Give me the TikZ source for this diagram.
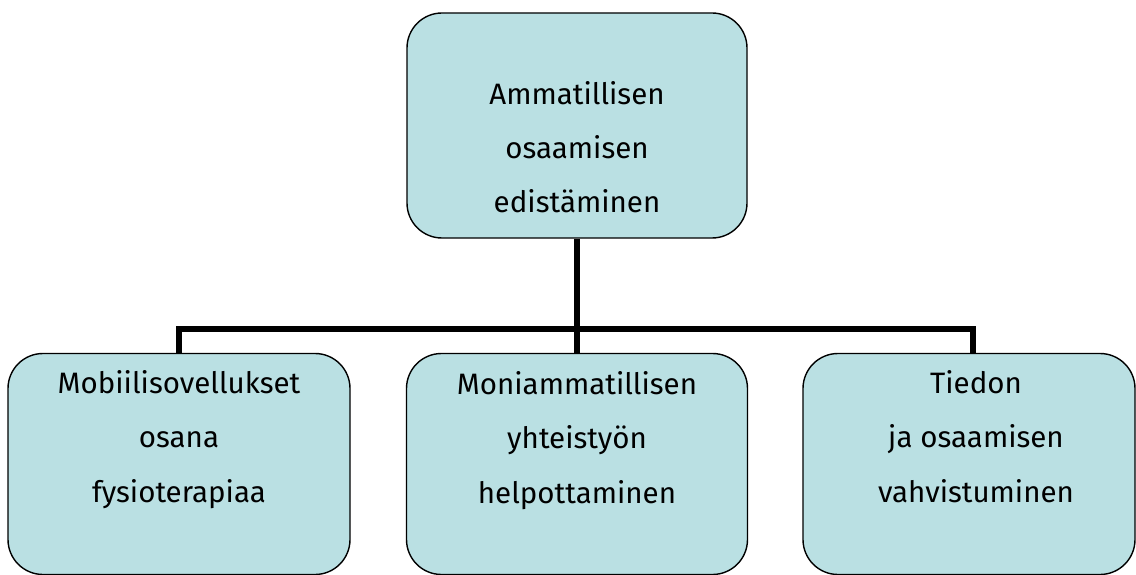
\documentclass[tikz,border=0pt]{standalone}
\usepackage{fontspec}
\setmainfont{Fira Sans}
\definecolor{boxfill}{RGB}{186,224,227}
\tikzset{
  box/.style={draw=black, line width=1.4pt, fill=boxfill, rounded corners=35pt,
    inner sep=0pt},
  % anchor=base of a multi-line node sits on its last line
  txt/.style={align=center, anchor=base, inner sep=0pt,
    font=\fontsize{29.5}{54.5}\selectfont},
  conn/.style={draw=black, line width=5.5pt, line join=miter, line cap=butt}
}
\begin{document}
\begin{tikzpicture}[x=1pt,y=-1pt]
  \useasboundingbox (0,0) rectangle (1136,575);
  % boxes
  \node[box, minimum width=340pt, minimum height=225pt] (top) at (577,125.5) {};
  \node[box, minimum width=342pt, minimum height=221pt] (b1) at (179,464) {};
  \node[box, minimum width=341pt, minimum height=221pt] (b2) at (577,464) {};
  \node[box, minimum width=332pt, minimum height=221pt] (b3) at (969,464) {};
  % labels
  \node[txt] (t0) at (577,213) {Ammatillisen\\osaamisen\\edistäminen};
  \node[txt] (t1) at (179,502) {Mobiilisovellukset\\osana\\fysioterapiaa};
  \node[txt] (t2) at (577,503) {Moniammatillisen\\yhteistyön\\helpottaminen};
  \node[txt] (t3) at (976,502) {Tiedon\\ja osaamisen\\vahvistuminen};
  % connectors
  \coordinate (hub) at (577,329);
  \draw[conn] (top.south) -- (b2.north);
  \draw[conn] (b1.north) |- (hub) -| ([xshift=4pt]b3.north);
\end{tikzpicture}
\end{document}
